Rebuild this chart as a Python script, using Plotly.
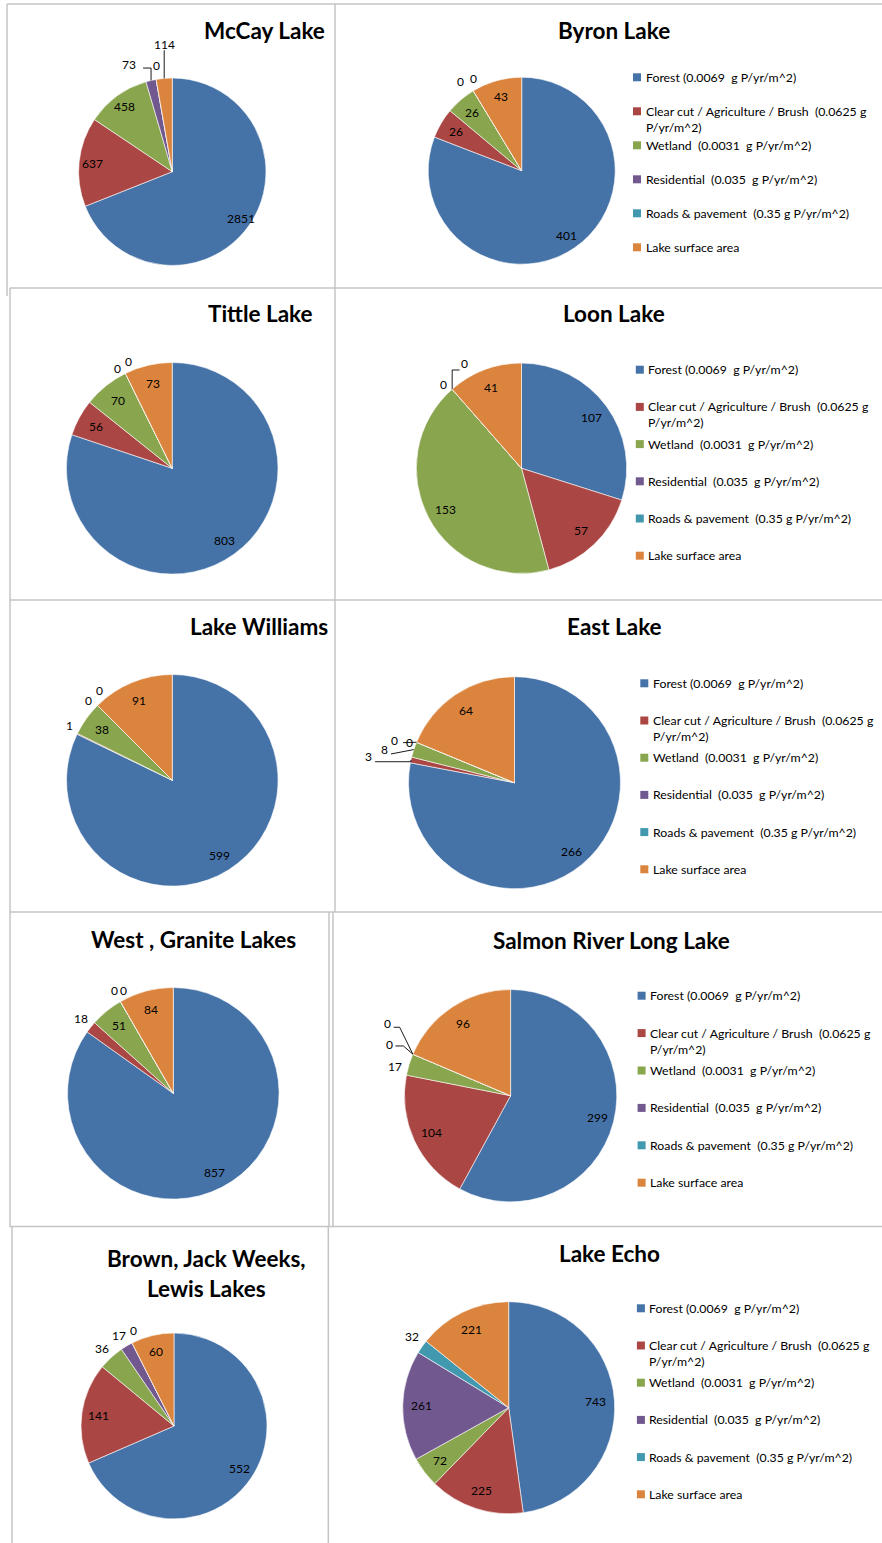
import math
import plotly.graph_objects as go

# ---------------- data ----------------
categories = [
    "Forest (0.0069 g P/yr/m^2)",
    "Clear cut / Agriculture / Brush (0.0625 g P/yr/m^2)",
    "Wetland (0.0031 g P/yr/m^2)",
    "Residential (0.035 g P/yr/m^2)",
    "Roads & pavement (0.35 g P/yr/m^2)",
    "Lake surface area",
]
legend_lines = [
    ["Forest (0.0069  g P/yr/m^2)"],
    ["Clear cut / Agriculture / Brush  (0.0625 g", "P/yr/m^2)"],
    ["Wetland  (0.0031  g P/yr/m^2)"],
    ["Residential  (0.035  g P/yr/m^2)"],
    ["Roads & pavement  (0.35 g P/yr/m^2)"],
    ["Lake surface area"],
]
titles = {
    "mccay": ["McCay Lake"],
    "byron": ["Byron Lake"],
    "tittle": ["Tittle Lake"],
    "loon": ["Loon Lake"],
    "williams": ["Lake Williams"],
    "east": ["East Lake"],
    "west": ["West , Granite Lakes"],
    "salmon": ["Salmon River Long Lake"],
    "brown": ["Brown, Jack Weeks,", "Lewis Lakes"],
    "echo": ["Lake Echo"],
}
mccay = [2851, 637, 458, 73, 0, 114]
byron = [401, 26, 26, 0, 0, 43]
tittle = [803, 56, 70, 0, 0, 73]
loon = [107, 57, 153, 0, 0, 41]
williams = [599, 1, 38, 0, 0, 91]
east = [266, 3, 8, 0, 0, 64]
west_granite = [857, 18, 51, 0, 0, 84]
salmon = [299, 104, 17, 0, 0, 96]
brown = [552, 141, 36, 17, 0, 60]
echo = [743, 225, 72, 261, 32, 221]

series = {
    "mccay": mccay, "byron": byron, "tittle": tittle, "loon": loon,
    "williams": williams, "east": east, "west": west_granite,
    "salmon": salmon, "brown": brown, "echo": echo,
}

# ---------------- style / layout ----------------
W, H = 882, 1543
colors = ["#4572A7", "#AA4643", "#89A54E", "#71588F", "#4198AF", "#DB843D"]
FONT = "Lato, Calibri, 'Open Sans', sans-serif"


def px(x):
    return x / W


def py(y):
    return 1 - y / H


# pie centre (px), radius, title centre(s), outside labels, legend
layout_spec = {
    "mccay": dict(c=(172.3, 171.7), r=93.7, t=[(264.5, 30)], rf=0.86,
                  out={3: (-22, -16.4, (14, 4, "elbow")), 4: (0, -14.4, None),
                       5: (0.2, -34, (0, 6, "elbow"))}),
    "byron": dict(c=(521.7, 170.7), r=93.5, t=[(614, 30)],
                  out={3: (-12.3, -9.1, None), 4: (0.2, -11.8, None)},
                  leg=(633, 77.3, 34.0)),
    "tittle": dict(c=(172.2, 468.3), r=105.8, t=[(260, 313.5)],
                   out={3: (-8.2, -5.1, None), 4: (3.2, -11.7, None)}),
    "loon": dict(c=(521.5, 468.3), r=105.2, t=[(614, 313.7)],
                 out={3: (-9, -4.9, None), 4: (11.9, -25.2, (-4.5, 6, "elbow"))},
                 leg=(635.8, 369.7, 37.2)),
    "williams": dict(c=(172.3, 780.3), r=105.8, t=[(259, 626)],
                     out={1: (-8.2, -8, None), 3: (-9.3, -5.4, None), 4: (2.4, -15.4, None)}),
    "east": dict(c=(514.5, 782.7), r=106, t=[(614, 626.7)],
                 out={1: (-42.9, -3.2, (7, 5, "elbow")), 2: (-29.6, 0.4, (6.8, 4, None)),
                      3: (-22.2, -1.3, (8.7, 1.7, None)), 4: (-7.5, 0.4, None)},
                 leg=(640.3, 683.3, 37.2)),
    "west": dict(c=(173.3, 1093.3), r=105.8, t=[(193.7, 939.2)],
                 out={1: (-9.8, -8.2, None), 3: (-5.6, -11.6, None), 4: (3.4, -11.6, None)}),
    "salmon": dict(c=(510.6, 1095.7), r=106.2, t=[(611, 940.8)],
                   out={2: (-13.8, 2.2, None), 3: (-23.1, -9.2, (5.6, 1, 8)),
                        4: (-25.6, -30.2, (6.4, 3.3, 6))},
                   leg=(637.6, 995.7, 37.4)),
    "brown": dict(c=(174, 1426), r=93, t=[(206.5, 1258.3), (206.7, 1288.3)],
                  out={2: (-9.6, -9, None), 3: (-7.4, -10.9, None), 4: (1.2, -12, None)}),
    "echo": dict(c=(508.7, 1407.7), r=106, t=[(609.4, 1253.3)],
                 out={4: (-9.6, -10, None)},
                 leg=(636.9, 1308.3, 37.2)),
}

fig = go.Figure()
shapes = []
annotations = []

# panel borders
border = dict(color="#c4c4c4", width=1.5)
border_lines = [
    ((7, 4), (7, 296)), ((7, 4), (882, 4)), ((335, 4), (335, 600)),
    ((10, 288), (882, 288)), ((10, 288), (10, 912)),
    ((10, 600), (882, 600)), ((335, 600), (335, 912)),
    ((10, 912), (882, 912)), ((10, 912), (10, 1227)),
    ((333, 912), (333, 1227)), ((329, 912), (329, 1227)),
    ((10, 1226.5), (882, 1226.5)), ((12, 1227), (12, 1543)),
    ((328.3, 1227), (328.3, 1543)),
]
for (x0, y0), (x1, y1) in border_lines:
    shapes.append(dict(type="line", xref="paper", yref="paper",
                       x0=px(x0), y0=py(y0), x1=px(x1), y1=py(y1), line=border))

for key, spec in layout_spec.items():
    vals = series[key]
    cx, cy = spec["c"]
    r = spec["r"]
    rf = spec.get("rf", 0.82)
    fig.add_trace(go.Pie(
        values=vals, labels=categories, sort=False, direction="clockwise",
        rotation=0, textinfo="none", showlegend=False,
        hoverinfo="label+value",
        marker=dict(colors=colors, line=dict(color="#ffffff", width=0.6)),
        domain=dict(x=[px(cx - r), px(cx + r)], y=[py(cy + r), py(cy - r)]),
    ))
    total = sum(vals)
    cum = 0
    outs = spec.get("out", {})
    for i, v in enumerate(vals):
        th = math.radians(360.0 * (cum + v / 2.0) / total)
        s, c = math.sin(th), -math.cos(th)
        if i in outs:
            dx, dy, leader = outs[i]
            ex, ey = cx + r * s, cy + r * c
            lx, ly = ex + dx, ey + dy
            if leader is not None:
                adx, ady, knee = leader
                ax, ay = lx + adx, ly + ady
                if knee == "elbow":
                    kx, ky = ex, ay
                elif knee is None:
                    kx, ky = ax, ay
                else:
                    kx, ky = ax + knee, ay
                path = "M {},{} L {},{} L {},{}".format(
                    px(ax), py(ay), px(kx), py(ky), px(ex), py(ey))
                shapes.append(dict(type="path", xref="paper", yref="paper",
                                   path=path, line=dict(color="#000000", width=0.9)))
        else:
            rr = rf if v / total < 0.5 else rf + 0.02
            lx, ly = cx + rr * r * s, cy + rr * r * c
        annotations.append(dict(
            x=px(lx), y=py(ly), xref="paper", yref="paper", text=str(v),
            showarrow=False, xanchor="center", yanchor="middle",
            font=dict(family=FONT, size=12, color="#000000")))
        cum += v

    for (tx, ty), line in zip(spec["t"], titles[key]):
        annotations.append(dict(
            x=px(tx), y=py(ty), xref="paper", yref="paper",
            text="<b>" + line + "</b>", showarrow=False,
            xanchor="center", yanchor="middle",
            font=dict(family=FONT, size=22.5, color="#000000")))

    if "leg" in spec:
        lx0, ly0, ldy = spec["leg"]
        for i, lines in enumerate(legend_lines):
            yy = ly0 + i * ldy
            shapes.append(dict(type="rect", xref="paper", yref="paper",
                               x0=px(lx0), x1=px(lx0 + 8), y0=py(yy + 4), y1=py(yy - 4),
                               fillcolor=colors[i], line=dict(width=0)))
            for j, txt in enumerate(lines):
                annotations.append(dict(
                    x=px(lx0 + 10.5), y=py(yy + 16 * j), xref="paper", yref="paper",
                    text=txt, showarrow=False, xanchor="left", yanchor="middle",
                    font=dict(family=FONT, size=12.3, color="#000000")))

fig.update_layout(
    width=W, height=H, margin=dict(l=0, r=0, t=0, b=0),
    paper_bgcolor="#ffffff", plot_bgcolor="#ffffff",
    shapes=shapes, annotations=annotations, showlegend=False,
)

fig.write_html("out.html", config={"displayModeBar": False},
               post_script="document.body.style.margin='0';")
